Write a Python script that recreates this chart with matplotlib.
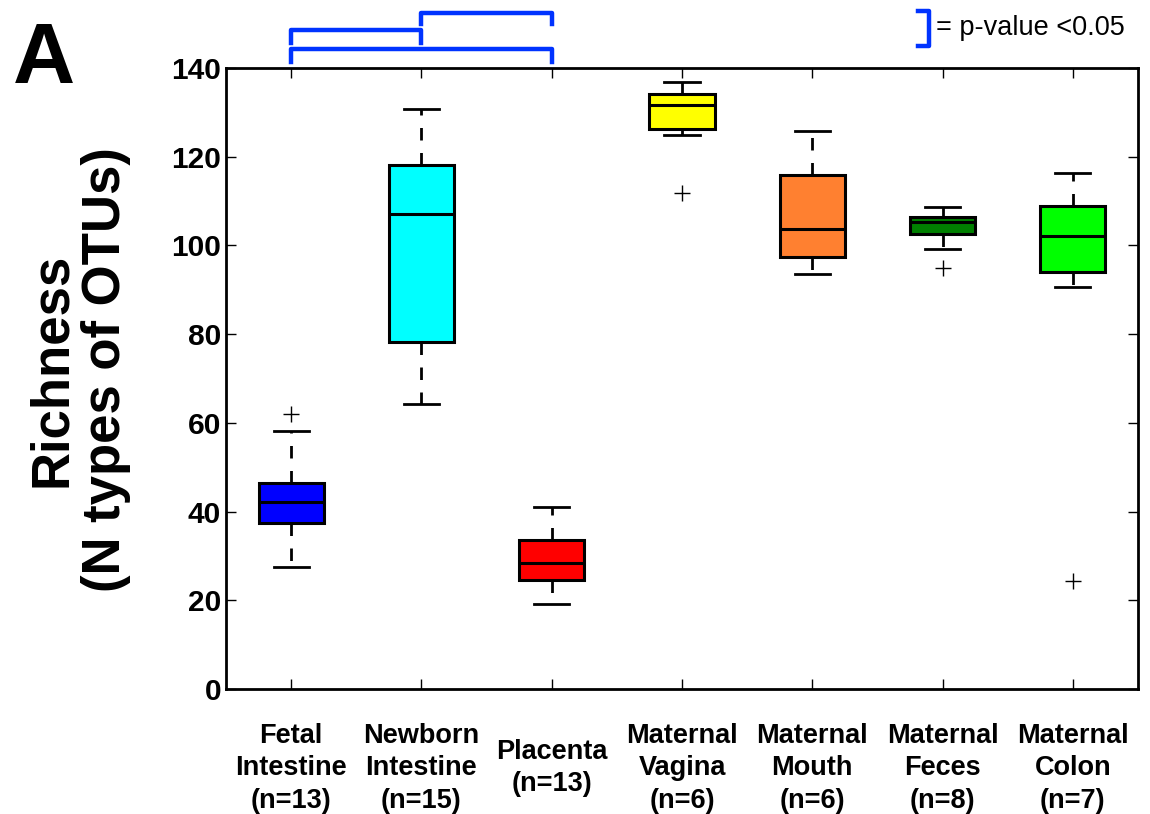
import matplotlib
matplotlib.use('Agg')
import matplotlib.pyplot as plt

plt.rcParams['font.family'] = ['Liberation Sans', 'DejaVu Sans']

# group labels and box statistics
groups = ['Fetal\nIntestine\n(n=13)', 'Newborn\nIntestine\n(n=15)', 'Placenta\n(n=13)',
          'Maternal\nVagina\n(n=6)', 'Maternal\nMouth\n(n=6)', 'Maternal\nFeces\n(n=8)',
          'Maternal\nColon\n(n=7)']
colors = ['#0000ff', '#00ffff', '#ff0000', '#ffff00', '#ff8030', '#008000', '#00ff00']
whislo = [27.4, 64.2, 19.2, 125.0, 93.5, 99.3, 90.7]
q1 = [37.5, 78.2, 24.6, 126.2, 97.3, 102.6, 93.9]
med = [42.2, 107.1, 28.5, 131.7, 103.6, 105.3, 102.1]
q3 = [46.5, 118.1, 33.6, 134.1, 115.9, 106.3, 108.9]
whishi = [58.2, 130.7, 41.0, 136.8, 125.8, 108.7, 116.3]
fliers = [[62.0], [], [], [111.7], [], [94.9], [24.3]]

# significant pairs (group a, group b, bracket top, leg bottom)
pairs = [(1, 3, 144.2, 141.4), (1, 2, 148.6, 145.7), (2, 3, 152.5, 149.8)]

fig = plt.figure(figsize=(11.5, 8.14), dpi=100)
ax = fig.add_axes([0.1965, 0.1536, 0.7931, 0.7629])

stats = []
for i in range(len(groups)):
    stats.append(dict(whislo=whislo[i], q1=q1[i], med=med[i], q3=q3[i],
                      whishi=whishi[i], fliers=fliers[i]))

bp = ax.bxp(stats, positions=range(1, len(groups) + 1), widths=0.5, capwidths=0.27,
            patch_artist=True,
            boxprops=dict(edgecolor='black', linewidth=2.2),
            medianprops=dict(color='black', linewidth=2.2),
            whiskerprops=dict(color='black', linewidth=2.0, linestyle=(0, (4.5, 4.5))),
            capprops=dict(color='black', linewidth=2.0),
            flierprops=dict(marker='+', markeredgecolor='black', markersize=12,
                            markeredgewidth=1.0, linestyle='none'))
for patch, c in zip(bp['boxes'], colors):
    patch.set_facecolor(c)

ax.set_xlim(0.5, 7.5)
ax.set_ylim(0, 140)
ax.set_yticks(range(0, 141, 20))
ax.set_xticks(range(1, len(groups) + 1))
ax.set_xticklabels(groups, fontsize=19.5, fontweight='bold', linespacing=1.33)
for lab in ax.get_xticklabels():
    lab.set_verticalalignment('center')
ax.tick_params(axis='x', pad=57)
ax.tick_params(axis='y', labelsize=21.5)
for lab in ax.get_yticklabels():
    lab.set_fontweight('bold')
ax.tick_params(direction='in', length=7, width=1.0, top=True, right=True)
for s in ax.spines.values():
    s.set_linewidth(2.0)

fig.text(79 / 1150, 1 - 370 / 814, 'Richness\n(N types of OTUs)', fontsize=38,
         fontweight='bold', rotation=90, ha='center', va='center', linespacing=1.1)

# significance brackets above the axes
for a, b, ytop, ybot in pairs:
    ax.plot([a, a, b, b], [ybot, ytop, ytop, ybot], color='#0033ff', linewidth=3.2,
            solid_joinstyle='round', clip_on=False)

# legend bracket
fig.lines.append(plt.Line2D([918 / 1150, 929 / 1150, 929 / 1150, 918 / 1150],
                            [1 - 11 / 814, 1 - 11 / 814, 1 - 46 / 814, 1 - 46 / 814],
                            transform=fig.transFigure, color='#0033ff', linewidth=3.2))
fig.text(936 / 1150, 1 - 28 / 814, '= p-value <0.05', fontsize=19.5, va='center', ha='left')

fig.text(13 / 1150, 1 - 61 / 814, 'A', fontsize=62, fontweight='bold', va='center', ha='left')

fig.savefig('out.png', dpi=100)
